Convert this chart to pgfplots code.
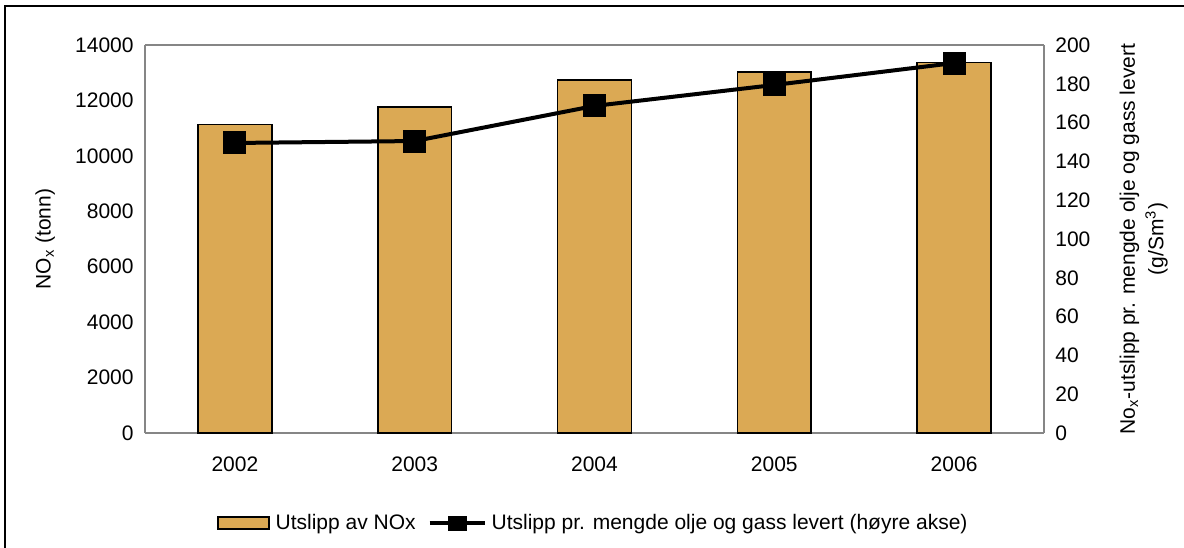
\documentclass[border=0pt]{standalone}
\usepackage{pgfplots}
\pgfplotsset{compat=1.18}
\usepackage{fontspec}
\setmainfont{Liberation Sans}
\definecolor{barcol}{RGB}{219,169,84}
\definecolor{framegray}{RGB}{134,134,134}
\begin{document}
\fontsize{10.5}{12.6}\selectfont
\begin{tikzpicture}
\useasboundingbox (-72.5pt,-57pt) rectangle (519.5pt,216.5pt);
\draw[black, line width=0.75pt] (-70pt,-60pt) -- (-70pt,213.5pt) -- (525pt,213.5pt);
\begin{axis}[
  at={(0,0)}, anchor=south west,
  scale only axis, width=449.5pt, height=194pt,
  xmin=-0.5, xmax=4.5, ymin=0, ymax=14000,
  xtick={0,1,2,3,4}, xticklabels={2002,2003,2004,2005,2006},
  ytick={0,2000,...,14000},
  major tick length=0pt,
  axis line style={framegray, line width=0.8pt},
  axis y line*=left, axis x line*=bottom,
  /pgf/number format/assume math mode=true,
  scaled y ticks=false,
  yticklabel style={/pgf/number format/1000 sep={}, xshift=-2pt},
  xticklabel style={yshift=-8pt},
  ylabel={NO\textsubscript{x} (tonn)},
  ylabel style={at={(axis description cs:-0.111,0.5)}, anchor=center},
  tick label style={font=\fontsize{10.5}{12.6}\selectfont},
  label style={font=\fontsize{10.5}{12.6}\selectfont},
]
\addplot[ybar, bar width=0.41, fill=barcol, draw=black, line width=0.75pt]
  coordinates {(0,11124) (1,11763) (2,12737) (3,13026) (4,13361)};
\draw[framegray, line width=0.8pt] (axis cs:-0.5,14000) -- (axis cs:4.5,14000) -- (axis cs:4.5,0);
\end{axis}
\begin{axis}[
  at={(0,0)}, anchor=south west,
  scale only axis, width=449.5pt, height=194pt,
  xmin=-0.5, xmax=4.5, ymin=0, ymax=200,
  ytick={0,20,...,200},
  major tick length=0pt,
  axis y line*=right, hide x axis,
  axis line style={framegray, line width=0.8pt},
  /pgf/number format/assume math mode=true,
  yticklabel style={xshift=2pt},
  ylabel={\shortstack{No\textsubscript{x}-utslipp pr. mengde olje og gass levert\\(g/Sm\textsuperscript{3})}},
  ylabel style={at={(axis description cs:1.111,0.5)}, anchor=center, rotate=0},
  tick label style={font=\fontsize{10.5}{12.6}\selectfont},
  label style={font=\fontsize{10.5}{12.6}\selectfont, align=center},
  legend style={at={(0.5,-0.232)}, anchor=center, draw=none, font=\fontsize{10.5}{12.6}\selectfont, legend columns=2, /tikz/every even column/.append style={column sep=4pt}},
  legend cell align=left,
]
\addlegendimage{legend image code/.code={\draw[fill=barcol, draw=black, line width=0.75pt] (0pt,-3pt) rectangle (25.5pt,3pt); \path (26.5pt,0pt);}}
\addlegendentry{Utslipp av NOx}
\addplot[black, line width=2pt, mark=square*, mark size=4.75pt, mark options={solid},
  legend image code/.code={\draw[black, line width=2pt] (0pt,0pt) -- (27.5pt,0pt); \fill[black] (10pt,-2.75pt) rectangle (17.5pt,2.75pt); \path (28pt,0pt);}]
  coordinates {(0,149.5) (1,150.5) (2,168.6) (3,179.4) (4,190.7)};
\addlegendentry{Utslipp pr. mengde olje og gass levert (høyre akse)}
\end{axis}
\end{tikzpicture}
\end{document}
